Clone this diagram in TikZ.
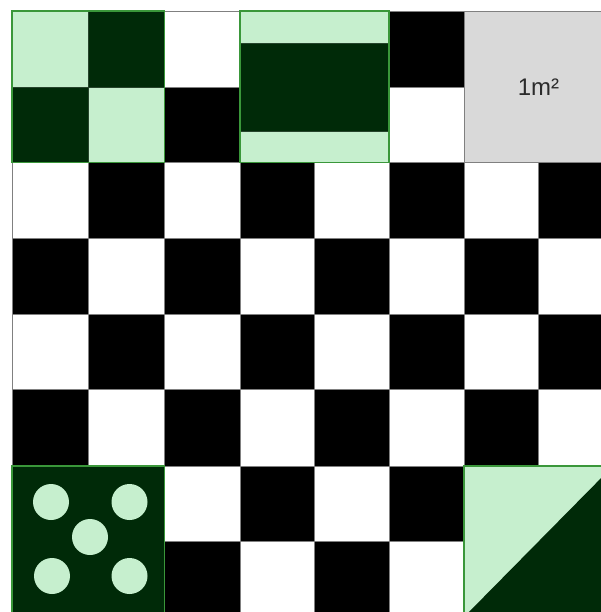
\documentclass[tikz,border=0pt]{standalone}
\usepackage{fontspec}
\setmainfont{Liberation Sans}
\definecolor{lgreen}{HTML}{C6EFCE}
\definecolor{dgreen}{HTML}{002A08}
\definecolor{bgreen}{HTML}{3A973A}
\definecolor{lgray}{HTML}{D9D9D9}
\definecolor{gline}{HTML}{808080}
\definecolor{tgray}{HTML}{2B2B2B}
\tikzset{
  gridline/.style={draw=gline, line width=0.9pt},
  greenframe/.style={draw=bgreen, line width=1.4pt},
  innerline/.style={draw=dgreen!70!gline, line width=0.8pt},
  dot/.style={fill=lgreen, draw=none},
  areatext/.style={font=\fontsize{24}{28}\selectfont, text=tgray, inner sep=0pt}
}
\begin{document}
\begin{tikzpicture}[x=1pt,y=-1pt]
\useasboundingbox (0,0) rectangle (601,612);
\clip (0,0) rectangle (601,612);
\fill[white] (0,0) rectangle (601,612);
\def\xs{{12,88,164.5,240,314.5,389,464,538.5,613}}
\def\ys{{11,87,162.5,238,314,389.5,466,541.7,617}}
% checkerboard
\foreach \i in {0,...,7}{
  \foreach \j in {0,...,7}{
    \pgfmathsetmacro\xa{\xs[\i]}
    \pgfmathsetmacro\xb{\xs[\i+1]}
    \pgfmathsetmacro\ya{\ys[\j]}
    \pgfmathsetmacro\yb{\ys[\j+1]}
    \pgfmathtruncatemacro\p{mod(\i+\j,2)}
    \ifnum\p=1
      \fill[black] (\xa,\ya) rectangle (\xb,\yb);
    \fi
    \draw[gridline] (\xa,\ya) rectangle (\xb,\yb);
  }
}
% A: top-left 2x2 green checker
\fill[lgreen] (12,11) rectangle (88,87);
\fill[dgreen] (88,11) rectangle (164.5,87);
\fill[dgreen] (12,87) rectangle (88,162.5);
\fill[lgreen] (88,87) rectangle (164.5,162.5);
\draw[innerline] (88,11) -- (88,162.5) (12,87) -- (164.5,87);
\draw[greenframe] (12,11) rectangle (164.5,162.5);
% B: striped block
\fill[lgreen] (240,11) rectangle (389,162.5);
\fill[dgreen] (240,43) rectangle (389,131);
\draw[innerline] (240,43) -- (389,43) (240,131) -- (389,131);
\draw[greenframe] (240,11) rectangle (389,162.5);
% C: grey square with label
\fill[lgray] (464,11) rectangle (613,162.5);
\draw[gridline] (464,11) rectangle (613,162.5);
\node[areatext] (area) at (538.5,87) {1m²};
% D: dice five
\fill[dgreen] (12,466) rectangle (164.5,617);
\draw[greenframe] (12,466) rectangle (164.5,617);
\fill[dot] (51,502) circle (18);
\fill[dot] (129.5,502) circle (18);
\fill[dot] (90,537) circle (18);
\fill[dot] (52,576) circle (18);
\fill[dot] (129.5,576) circle (18);
% E: diagonal split
\fill[lgreen] (464,466) rectangle (613,617);
\fill[dgreen] (613,466) -- (613,617) -- (464,617) -- cycle;
\draw[greenframe] (464,466) rectangle (613,617);
\end{tikzpicture}
\end{document}
